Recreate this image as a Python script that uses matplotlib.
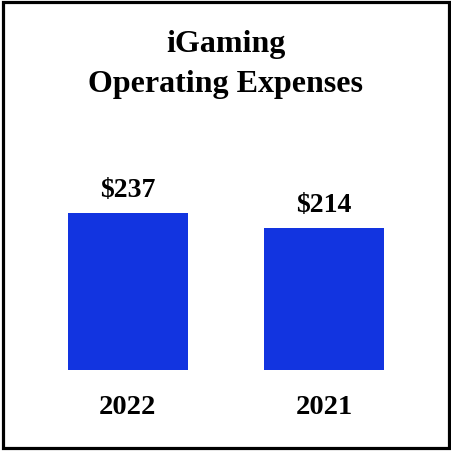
import matplotlib.pyplot as plt
from matplotlib.patches import Rectangle

years = ["2022", "2021"]
expenses = [237, 214]
value_labels = ["$237", "$214"]

plt.rcParams['font.family'] = ['Liberation Serif', 'DejaVu Serif']

fig = plt.figure(figsize=(4.52, 4.52), dpi=100)

# axes placed in pixel terms: bottom of bars at y=371 px from top
W = 452.0
ax = fig.add_axes([29.5 / W, 81 / W, 393 / W, 220 / W])
ax.bar(range(len(years)), expenses, width=0.61, color='#1234E0')
ax.set_xlim(-0.5, 1.5)
ax.set_ylim(0, 220 / 0.662)
ax.axis('off')

for i, (v, lab) in enumerate(zip(expenses, value_labels)):
    ax.annotate(lab, (i, v), xytext=(0, 12.5), textcoords='offset points',
                ha='center', va='baseline', fontsize=20, fontweight='bold')
    ax.annotate(years[i], (i, 0), xytext=(0, -31), textcoords='offset points',
                ha='center', va='baseline', fontsize=20.5, fontweight='bold')

fig.text(0.5, 1 - 51.7 / W, "iGaming", ha='center', va='baseline',
         fontsize=23, fontweight='bold')
fig.text(0.5, 1 - 91.7 / W, "Operating Expenses", ha='center', va='baseline',
         fontsize=23, fontweight='bold')

# black frame round the picture
fig.patches.append(Rectangle((3 / W, 3 / W), 1 - 6 / W, 1 - 6 / W,
                             transform=fig.transFigure, fill=False,
                             edgecolor='black', linewidth=2.3))

fig.savefig("out.png", dpi=100)
